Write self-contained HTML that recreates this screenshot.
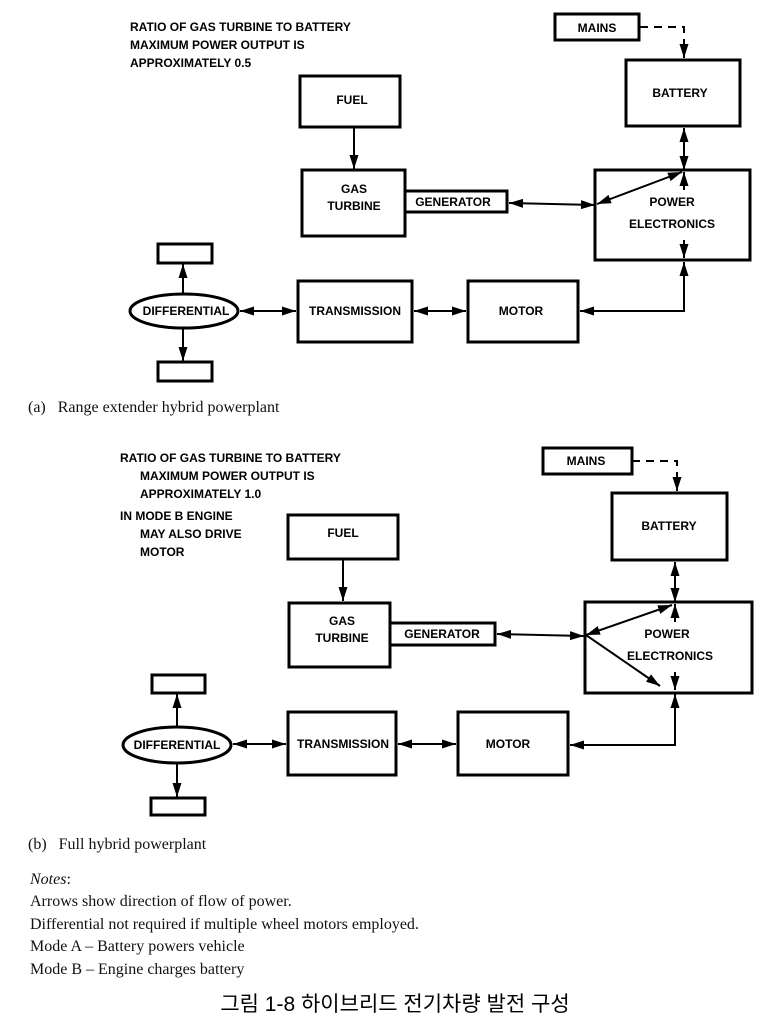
<!DOCTYPE html>
<html><head><meta charset="utf-8"><style>
html,body{margin:0;padding:0;background:#fff;}
svg{display:block;}
.b{font-family:"Liberation Sans",Arial,sans-serif;font-weight:bold;font-size:12px;fill:#000;}
.s{font-family:"Liberation Serif",serif;font-size:16px;fill:#111;}
.k{font-family:"Liberation Sans","Noto Sans CJK KR",sans-serif;font-size:21px;fill:#000;}
rect,ellipse{fill:#fff;stroke:#000;stroke-width:3;}
line,polyline{stroke:#000;stroke-width:2;fill:none;}
</style></head><body>
<svg width="770" height="1029" viewBox="0 0 770 1029" xmlns="http://www.w3.org/2000/svg">
<defs>
<marker id="a" viewBox="0 0 10 10" refX="10" refY="5" markerWidth="14" markerHeight="9" markerUnits="userSpaceOnUse" orient="auto-start-reverse" preserveAspectRatio="none"><path d="M0,0 L10,5 L0,10 z" fill="#000"/></marker>
</defs>

<!-- (a) -->
<text class="b" x="130" y="31">RATIO OF GAS TURBINE TO BATTERY</text>
<text class="b" x="130" y="49">MAXIMUM POWER OUTPUT  IS</text>
<text class="b" x="130" y="67">APPROXIMATELY 0.5</text>

<rect x="555" y="14" width="84" height="26"/>
<text class="b" x="597" y="32" text-anchor="middle">MAINS</text>
<polyline points="640,27 684,27 684,58" stroke-dasharray="8,6" marker-end="url(#a)"/>
<rect x="626" y="60" width="114" height="66"/>
<text class="b" x="680" y="97" text-anchor="middle">BATTERY</text>

<rect x="300" y="76" width="100" height="51"/>
<text class="b" x="352" y="104" text-anchor="middle">FUEL</text>
<line x1="354" y1="127" x2="354" y2="169" marker-end="url(#a)"/>

<rect x="302" y="170" width="103" height="66"/>
<text class="b" x="354" y="193" text-anchor="middle">GAS</text>
<text class="b" x="354" y="210" text-anchor="middle">TURBINE</text>
<rect x="405" y="191" width="102" height="21"/>
<text class="b" x="453" y="206" text-anchor="middle">GENERATOR</text>

<rect x="595" y="170" width="155" height="90"/>
<text class="b" x="672" y="206" text-anchor="middle">POWER</text>
<text class="b" x="672" y="228" text-anchor="middle">ELECTRONICS</text>

<line x1="509" y1="203" x2="595" y2="205" marker-start="url(#a)" marker-end="url(#a)"/>
<line x1="597" y1="204" x2="682" y2="172" marker-start="url(#a)" marker-end="url(#a)"/>
<line x1="684" y1="128" x2="684" y2="146" marker-start="url(#a)"/>
<line x1="684" y1="146" x2="684" y2="170" marker-end="url(#a)"/>
<line x1="684" y1="172" x2="684" y2="190" marker-start="url(#a)"/>
<line x1="684" y1="240" x2="684" y2="258" marker-end="url(#a)"/>
<polyline points="684,280 684,311 580,311" marker-end="url(#a)"/>
<line x1="684" y1="280" x2="684" y2="262" marker-end="url(#a)"/>

<rect x="468" y="281" width="110" height="61"/>
<text class="b" x="521" y="315" text-anchor="middle">MOTOR</text>
<rect x="298" y="281" width="114" height="61"/>
<text class="b" x="355" y="315" text-anchor="middle">TRANSMISSION</text>
<line x1="414" y1="311" x2="466" y2="311" marker-start="url(#a)" marker-end="url(#a)"/>
<line x1="240" y1="311" x2="296" y2="311" marker-start="url(#a)" marker-end="url(#a)"/>

<ellipse cx="184" cy="311" rx="54" ry="17"/>
<text class="b" x="186" y="315" text-anchor="middle">DIFFERENTIAL</text>
<rect x="158" y="244" width="54" height="19"/>
<rect x="158" y="362" width="54" height="19"/>
<line x1="183" y1="294" x2="183" y2="264" marker-end="url(#a)"/>
<line x1="183" y1="328" x2="183" y2="361" marker-end="url(#a)"/>

<text class="s" x="28" y="412">(a)&#160;&#160;&#160;Range extender hybrid powerplant</text>

<!-- (b) -->
<text class="b" x="120" y="462">RATIO OF GAS TURBINE TO BATTERY</text>
<text class="b" x="140" y="480">MAXIMUM POWER OUTPUT  IS</text>
<text class="b" x="140" y="498">APPROXIMATELY 1.0</text>
<text class="b" x="120" y="520">IN MODE B ENGINE</text>
<text class="b" x="140" y="538">MAY ALSO DRIVE</text>
<text class="b" x="140" y="556">MOTOR</text>

<rect x="543" y="448" width="89" height="26"/>
<text class="b" x="586" y="465" text-anchor="middle">MAINS</text>
<polyline points="632,461 677,461 677,491" stroke-dasharray="8,6" marker-end="url(#a)"/>
<rect x="612" y="493" width="115" height="67"/>
<text class="b" x="669" y="530" text-anchor="middle">BATTERY</text>

<rect x="288" y="515" width="110" height="44"/>
<text class="b" x="343" y="537" text-anchor="middle">FUEL</text>
<line x1="343" y1="559" x2="343" y2="601" marker-end="url(#a)"/>

<rect x="289" y="603" width="101" height="64"/>
<text class="b" x="342" y="625" text-anchor="middle">GAS</text>
<text class="b" x="342" y="642" text-anchor="middle">TURBINE</text>
<rect x="390" y="623" width="105" height="22"/>
<text class="b" x="442" y="638" text-anchor="middle">GENERATOR</text>

<rect x="585" y="602" width="167" height="91"/>
<text class="b" x="667" y="638" text-anchor="middle">POWER</text>
<text class="b" x="670" y="660" text-anchor="middle">ELECTRONICS</text>

<line x1="497" y1="634" x2="584" y2="636" marker-start="url(#a)" marker-end="url(#a)"/>
<line x1="586" y1="635" x2="672" y2="605" marker-start="url(#a)" marker-end="url(#a)"/>
<line x1="586" y1="635" x2="660" y2="686" marker-end="url(#a)"/>
<line x1="675" y1="562" x2="675" y2="580" marker-start="url(#a)"/>
<line x1="675" y1="580" x2="675" y2="602" marker-end="url(#a)"/>
<line x1="675" y1="604" x2="675" y2="622" marker-start="url(#a)"/>
<line x1="675" y1="672" x2="675" y2="690" marker-end="url(#a)"/>
<polyline points="675,712 675,745 570,745" marker-end="url(#a)"/>
<line x1="675" y1="712" x2="675" y2="694" marker-end="url(#a)"/>

<rect x="458" y="712" width="110" height="63"/>
<text class="b" x="508" y="748" text-anchor="middle">MOTOR</text>
<rect x="288" y="712" width="108" height="63"/>
<text class="b" x="343" y="748" text-anchor="middle">TRANSMISSION</text>
<line x1="398" y1="744" x2="456" y2="744" marker-start="url(#a)" marker-end="url(#a)"/>
<line x1="233" y1="744" x2="286" y2="744" marker-start="url(#a)" marker-end="url(#a)"/>

<ellipse cx="177" cy="745" rx="54" ry="18"/>
<text class="b" x="177" y="749" text-anchor="middle">DIFFERENTIAL</text>
<rect x="152" y="675" width="53" height="18"/>
<rect x="151" y="798" width="54" height="17"/>
<line x1="177" y1="727" x2="177" y2="694" marker-end="url(#a)"/>
<line x1="177" y1="763" x2="177" y2="797" marker-end="url(#a)"/>

<text class="s" x="28" y="849">(b)&#160;&#160;&#160;Full hybrid powerplant</text>

<text class="s" x="30" y="884"><tspan font-style="italic">Notes</tspan>:</text>
<text class="s" x="30" y="906">Arrows show direction of flow of power.</text>
<text class="s" x="30" y="929">Differential not required if multiple wheel motors employed.</text>
<text class="s" x="30" y="951">Mode A – Battery powers vehicle</text>
<text class="s" x="30" y="974">Mode B – Engine charges battery</text>

<text class="k" x="395" y="1011" text-anchor="middle">그림 1-8 하이브리드 전기차량 발전 구성</text>
</svg>
</body></html>
